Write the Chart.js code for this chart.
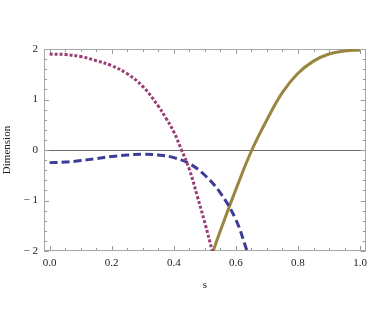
<!DOCTYPE html>
<html><head><meta charset="utf-8">
<script src="https://cdn.jsdelivr.net/npm/chart.js@4/dist/chart.umd.min.js"></script>
<style>html,body{margin:0;padding:0;background:#fff}#wrap{width:373px;height:333px}</style>
</head><body><div id="wrap"><canvas id="c" width="373" height="333"></canvas></div>
<script>
// Data
const sDotted = [0, 0.05, 0.1, 0.15, 0.2, 0.25, 0.3, 0.35, 0.375, 0.4, 0.425, 0.45, 0.475, 0.5, 0.524];
const vDotted = [1.90, 1.89, 1.85, 1.77, 1.67, 1.51, 1.26, 0.87, 0.63, 0.36, 0.0, -0.38, -0.90, -1.44, -2.0];
const sDashed = [0, 0.05, 0.1, 0.15, 0.2, 0.25, 0.3, 0.35, 0.4, 0.45, 0.5, 0.55, 0.6, 0.636];
const vDashed = [-0.25, -0.24, -0.21, -0.17, -0.13, -0.10, -0.085, -0.10, -0.15, -0.27, -0.50, -0.85, -1.38, -2.0];
const sSolid = [0.527, 0.55, 0.6, 0.65, 0.7, 0.75, 0.8, 0.85, 0.9, 0.95, 1.0];
const vSolid = [-2.0, -1.60, -0.78, -0.02, 0.60, 1.14, 1.52, 1.76, 1.90, 1.96, 1.98];
const xTicks = [0, 0.2, 0.4, 0.6, 0.8, 1.0];
const yTicks = [-2, -1, 0, 1, 2];
const xTitle = 's';
const yTitle = 'Dimension';

const pts = (xs, ys) => xs.map((x, i) => ({x: x, y: ys[i]}));
const FONT = {family: '"Liberation Serif", "Times New Roman", serif', size: 11};

const framePlugin = {
  id: 'frame',
  beforeDatasetsDraw(chart) {
    const {ctx, chartArea: a, scales: {x, y}} = chart;
    ctx.save();
    ctx.strokeStyle = '#6a6a6a';
    ctx.lineWidth = 1;
    const y0 = Math.round(y.getPixelForValue(0)) + 0.5;
    ctx.beginPath(); ctx.moveTo(a.left, y0); ctx.lineTo(a.right, y0); ctx.stroke();
    ctx.strokeStyle = '#999';
    for (let i = 0; i <= 20; i++) {
      const v = i * 0.05;
      const px = Math.round(x.getPixelForValue(v)) + 0.5;
      const L = (i % 4 === 0) ? 5 : 3;
      ctx.beginPath();
      ctx.moveTo(px, a.bottom); ctx.lineTo(px, a.bottom - L);
      ctx.moveTo(px, a.top); ctx.lineTo(px, a.top + L);
      ctx.stroke();
    }
    for (let i = 0; i <= 20; i++) {
      const v = -2 + i * 0.2;
      const py = Math.round(y.getPixelForValue(v)) + 0.5;
      const L = (i % 5 === 0) ? 5 : 3;
      ctx.beginPath();
      ctx.moveTo(a.left, py); ctx.lineTo(a.left + L, py);
      ctx.moveTo(a.right, py); ctx.lineTo(a.right - L, py);
      ctx.stroke();
    }
    ctx.strokeStyle = '#a8a8a8';
    ctx.strokeRect(Math.round(a.left) + 0.5, Math.round(a.top) + 0.5,
      Math.round(a.right - a.left) - 1, Math.round(a.bottom - a.top) - 1);
    ctx.restore();
  }
};

new Chart(document.getElementById('c'), {
  type: 'line',
  data: {
    datasets: [
      {data: pts(sDotted, vDotted), borderColor: '#993d74', borderWidth: 3, borderDash: [3, 2], pointRadius: 0, tension: 0.4, fill: false},
      {data: pts(sDashed, vDashed), borderColor: '#3d3d99', borderWidth: 3, borderDash: [8, 4], pointRadius: 0, tension: 0.4, fill: false},
      {data: pts(sSolid, vSolid), borderColor: '#99853d', borderWidth: 3, pointRadius: 0, tension: 0.4, fill: false}
    ]
  },
  options: {
    responsive: false,
    animation: false,
    layout: {padding: {top: 49, right: 2, left: 0, bottom: 0}},
    plugins: {legend: {display: false}, tooltip: {enabled: false}},
    scales: {
      x: {
        type: 'linear', min: -0.018, max: 1.018,
        afterBuildTicks: (s) => { s.ticks = xTicks.map(v => ({value: v})); },
        afterFit: (s) => { s.height = 82; },
        grid: {display: false, drawTicks: false},
        border: {display: false},
        ticks: {font: FONT, color: '#222', padding: 6, maxRotation: 0, callback: (v) => Number(v).toFixed(1)},
        title: {display: true, text: xTitle, font: FONT, color: '#222', padding: {top: 41, bottom: 41}}
      },
      y: {
        type: 'linear', min: -2, max: 2,
        afterBuildTicks: (s) => { s.ticks = yTicks.map(v => ({value: v})); },
        afterFit: (s) => { s.width = 44; },
        grid: {display: false, drawTicks: false},
        border: {display: false},
        ticks: {font: FONT, color: '#222', padding: 6, callback: (v) => (v < 0 ? '\u2212 ' + Math.abs(v) : String(v))},
        title: {display: true, text: yTitle, font: FONT, color: '#222', padding: {top: 1, bottom: 1}}
      }
    }
  },
  plugins: [framePlugin]
});
</script></body></html>
